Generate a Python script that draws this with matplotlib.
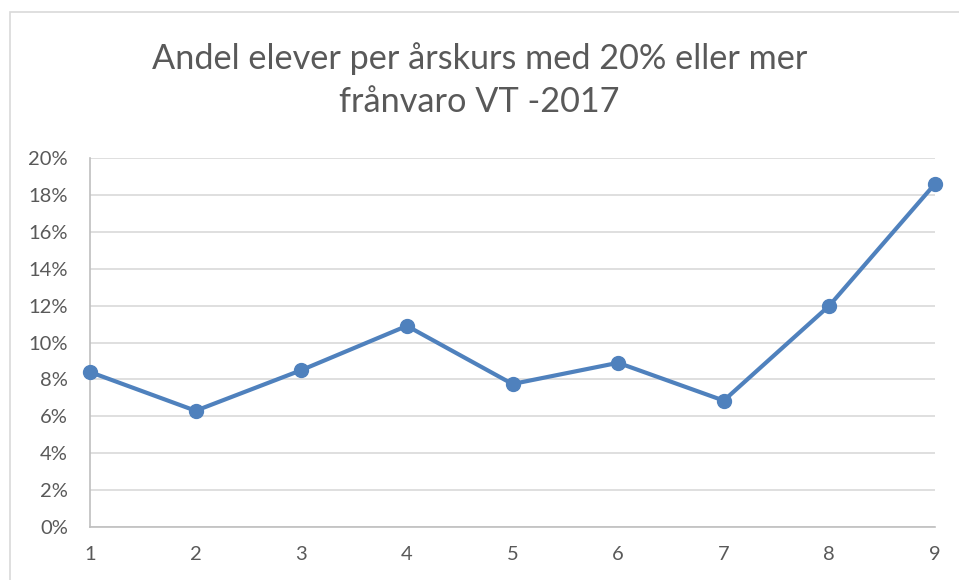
import matplotlib
matplotlib.use("Agg")
import matplotlib.pyplot as plt
from matplotlib.patches import Rectangle
from matplotlib.ticker import FuncFormatter

arskurs = [1, 2, 3, 4, 5, 6, 7, 8, 9]
andel = [8.4, 6.3, 8.5, 10.9, 7.75, 8.9, 6.85, 12.0, 18.6]
yticks = [0, 2, 4, 6, 8, 10, 12, 14, 16, 18, 20]
title = "Andel elever per årskurs med 20% eller mer\nfrånvaro VT -2017"

plt.rcParams['font.family'] = ['Lato', 'DejaVu Sans']

fig = plt.figure(figsize=(9.59, 5.8), dpi=100)
fig.patches.append(Rectangle((10 / 959, -0.1), 1.2, (580 - 12) / 580 + 0.1,
                             transform=fig.transFigure, fill=False,
                             edgecolor='#d9d9d9', linewidth=1.2))
ax = fig.add_axes([90 / 959, 53 / 580, 845 / 959, 369 / 580])

ax.plot(arskurs, andel, color='#4f81bd', linewidth=3, marker='o',
        markersize=10, clip_on=False, zorder=3)

ax.set_xlim(1, 9)
ax.set_ylim(0, 20)
ax.set_yticks(yticks)
ax.set_xticks(arskurs)
ax.yaxis.set_major_formatter(FuncFormatter(lambda v, p: "%d%%" % v))
ax.grid(axis='y', color='#d9d9d9', linewidth=1.2)
ax.set_axisbelow(True)
for s in ['top', 'right']:
    ax.spines[s].set_visible(False)
ax.spines['left'].set_color('#bfbfbf')
ax.spines['bottom'].set_color('#bfbfbf')
ax.spines['left'].set_linewidth(1.2)
ax.spines['bottom'].set_linewidth(1.2)
ax.tick_params(axis='y', length=0, pad=16, labelsize=14.5, labelcolor='#595959')
ax.tick_params(axis='x', length=0, pad=14, labelsize=14.5, labelcolor='#595959')

fig.text(0.5, 0.862, title, ha='center', va='center', fontsize=24.7,
         color='#595959', linespacing=1.45)

fig.savefig("out.png", dpi=100)
